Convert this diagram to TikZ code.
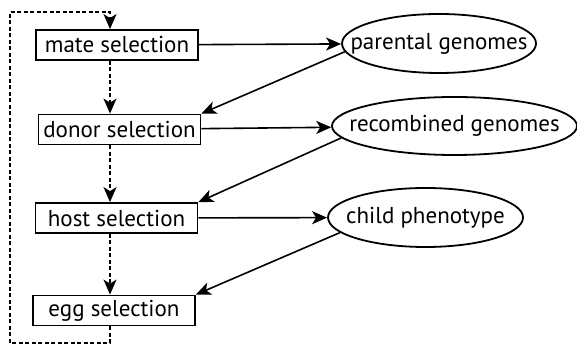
\documentclass[tikz,border=0pt]{standalone}
\usepackage{fontspec}
\setmainfont{PT Sans}
\usetikzlibrary{positioning}
\usetikzlibrary{arrows.meta}
\usetikzlibrary{shapes.geometric}
\usetikzlibrary{math}
\usetikzlibrary{calc}

\begin{document}
\begin{tikzpicture}[x=1pt,y=1pt,line width=1.6pt,
  selbox/.style={draw,line width=1.8pt,minimum width=162pt,minimum height=30pt,
    inner xsep=3pt,inner ysep=0pt,
    font=\fontsize{23}{26}\selectfont},
  genome/.style={draw,ellipse,line width=1.8pt,inner xsep=-30pt,inner ysep=0pt,
    font=\fontsize{23}{26}\selectfont},
  flow/.style={-{Stealth[length=15pt,width=13pt,inset=4pt]}},
  loopline/.style={dash pattern=on 4pt off 2.5pt}]

  \tikzmath{
    \loopx   = 110; % x of the dashed line between the selections
    \loopout = 10;  % x of the dashed loop on the left
    \loopbot = 4;   % y of the bottom of the loop
    \looptop = 335; % y of the top of the loop
  }

  \useasboundingbox (0,0) rectangle (577,347);

  % selection steps
  \node[selbox] (mate)  at (117,302)   {mate selection};
  \node[selbox] (donor) at (119.5,217.5) {donor selection};
  \node[selbox] (host)  at (116.5,129) {host selection};
  \node[selbox] (egg)   at (114,36.5)  {egg selection};

  % genomes
  \node[genome,minimum width=194pt,minimum height=59pt] (parental)   at (439,303.5) {parental genomes};
  \node[genome,minimum width=245pt,minimum height=58pt] (recombined) at (454.5,221) {recombined genomes};
  \node[genome,minimum width=195pt,minimum height=59pt] (child)      at (425.5,129.5) {child phenotype};

  % corners of the dashed loop
  \coordinate (L1) at (\loopx,\loopbot);
  \coordinate (L2) at (\loopout,\loopbot);
  \coordinate (L3) at (\loopout,\looptop);
  \coordinate (L4) at (\loopx,\looptop);

  % forward arrows
  \draw[flow] (mate) -- (parental);
  \draw[flow] (donor) -- (recombined);
  \draw[flow] (host) -- (child);

  % back arrows
  \draw[flow] (parental.185) -- (donor.north east);
  \draw[flow] (recombined.186) -- (host.north east);
  \draw[flow] (child.190) -- (egg.north east);

  % dashed order of the selections
  \draw[loopline,flow] (mate.south -| L1) -- (donor.north -| L1);
  \draw[loopline,flow] (donor.south -| L1) -- (host.north -| L1);
  \draw[loopline,flow] (host.south -| L1) -- (egg.north -| L1);
  \draw[loopline,flow] (egg.south -| L1) -- (L1) -- (L2) -- (L3) -- (L4) -- (mate.north -| L4);

\end{tikzpicture}
\end{document}
